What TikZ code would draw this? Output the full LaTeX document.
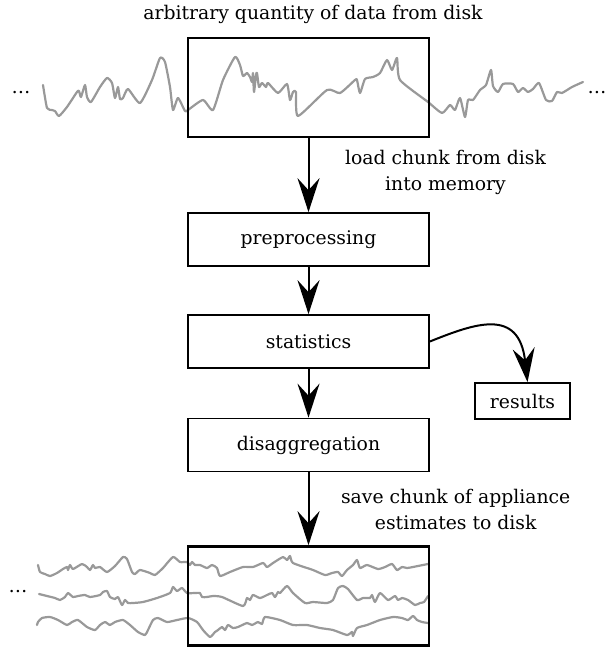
\documentclass[tikz,border=0pt]{standalone}
\usepackage{fontspec}
\setmainfont{DejaVu Serif}
\usetikzlibrary{arrows.meta,calc}
\definecolor{sig}{HTML}{999999}
\tikzset{
  proc/.style={draw, line width=0.85pt, minimum width=120.5pt, minimum height=26.5pt, inner sep=0pt},
  databox/.style={draw, line width=1.35pt, minimum width=120.5pt, minimum height=49.5pt, inner sep=0pt},
  flow/.style={-{Stealth[length=17pt,width=11pt,inset=6pt]}, line width=1pt},
  signal/.style={sig, line width=1.1pt, line join=round, line cap=round},
  lbl/.style={align=center}
}
\begin{document}
\begin{tikzpicture}[x=0.5pt, y=-0.5pt, font=\fontsize{9.4}{13}\selectfont]
\useasboundingbox (0,0) rectangle (606,647);

% incoming data stream
\draw[signal] plot[smooth, tension=0.35] coordinates {
(43,85) (47,108) (52,110) (55,111) (59,116) (67,107) (77,92) (79,91) (81,97) (85,85)
(87,97) (91,102) (100,87) (107,78) (112,83) (115,98) (118,87) (120,99) (123,98) (128,89)
(140,103) (152,80) (160,58) (165,62) (170,87) (173,110) (178,98) (185,111) (188,110)
(203,100) (213,110) (223,80) (235,57) (240,65) (243,76) (247,73) (250,77) (252,82)
(253,73) (254,92) (256,75) (257,73) (259,87) (262,83) (266,87) (268,83) (278,93)
(287,84) (290,100) (293,92) (296,92) (298,116) (327,90) (340,93) (355,80) (357,80)
(360,93) (365,79) (373,77) (380,73) (387,60) (392,70) (397,58) (400,80) (428,102)
(442,113) (450,105) (455,110) (460,98) (465,117) (468,100) (473,100) (480,90) (486,85)
(491,70) (493,86) (498,92) (503,84) (513,84) (518,92) (523,88) (528,92) (533,89)
(539,83) (546,100) (552,101) (557,92) (562,93) (572,87) (583,82)};

% appliance estimate streams
\draw[signal] plot[smooth, tension=0.35] coordinates {
(38,565) (40,572) (45,574) (50,576) (57,573) (63,569) (67,567) (68,570) (70,565) (73,569)
(82,564) (87,567) (90,570) (93,565) (95,568) (100,567) (107,572) (115,566) (123,557)
(127,559) (132,572) (135,574) (140,570) (150,573) (155,575) (163,568) (173,557) (180,562)
(187,562) (190,565) (192,562) (195,565) (200,565) (207,568) (212,565) (217,568) (220,576)
(230,572) (243,567) (253,567) (263,563) (267,567) (273,563) (283,557) (287,560) (290,556)
(293,563) (313,570) (325,575) (332,573) (338,572) (342,576) (347,570) (353,565) (357,560)
(360,568) (367,565) (378,569) (385,567) (392,564) (397,570) (402,567) (407,568) (413,567)
(428,564)};
\draw[signal] plot[smooth, tension=0.35] coordinates {
(39,594) (47,596) (55,598) (60,600) (65,597) (68,593) (73,597) (78,596) (85,595) (90,597)
(100,595) (103,592) (107,591) (110,597) (115,599) (118,597) (122,605) (125,600) (128,603)
(133,603) (143,602) (157,598) (170,593) (173,587) (177,591) (182,588) (187,593) (195,593)
(200,593) (202,597) (207,597) (213,596) (222,597) (243,606) (247,598) (250,600) (253,595)
(260,598) (267,595) (272,593) (275,597) (278,592) (280,593) (287,586) (293,593) (305,603)
(313,602) (327,603) (333,600) (338,588) (343,586) (348,589) (357,600) (363,598) (370,598)
(372,595) (375,602) (380,593) (388,600) (395,596) (398,600) (402,598) (408,600) (415,605)
(420,603) (424,602) (428,596)};
\draw[signal] plot[smooth, tension=0.35] coordinates {
(37,625) (38,622) (42,618) (50,617) (58,620) (67,625) (72,622) (78,620) (87,627) (95,630)
(100,625) (105,622) (110,625) (115,622) (123,620) (130,625) (138,632) (145,635) (148,630)
(153,620) (158,618) (167,622) (177,620) (188,618) (197,622) (203,630) (210,637) (215,632)
(218,630) (222,627) (225,630) (228,625) (233,628) (238,627) (247,623) (252,625) (258,622)
(262,624) (265,617) (280,620) (293,625) (307,625) (320,628) (333,630) (347,635) (352,632)
(353,636) (357,628) (367,625) (380,620) (393,617) (402,618) (408,620) (413,616) (417,620)
(422,622) (428,623)};

% text and boxes
\node[anchor=base] (title) at (313,20) {arbitrary quantity of data from disk};
\node[anchor=base] (dotsTL) at (21,94) {\ldots};
\node[anchor=base] (dotsTR) at (597,94) {\ldots};
\node[anchor=base] (dotsBL) at (18,592) {\ldots};

\node[databox] (chunkin) at (308.5,87.5) {};
\node[proc] (pre) at (308.5,239.5) {preprocessing};
\node[proc] (stat) at (308.5,341.5) {statistics};
\node[proc] (dis) at (308.5,445) {disaggregation};
\node[proc, minimum width=47.5pt, minimum height=18pt] (res) at (522.5,401) {results};
\node[databox] (chunkout) at (308.5,596) {};

\node[lbl, anchor=west] (loadlbl) at (338,172) {load chunk from disk\\into memory};
\node[lbl, anchor=west] (savelbl) at (334,509) {save chunk of appliance\\estimates to disk};

% connectors
\draw[flow] (chunkin) -- (pre);
\draw[flow] (pre) -- (stat);
\draw[flow] (stat) -- (dis);
\draw[flow] (dis) -- (chunkout);
\draw[flow] (stat.east) .. controls ($(stat.east)+(45,-18)$) and ($(res.north)+(-3.5,-75)$) .. ([xshift=2.5pt]res.north);
\end{tikzpicture}
\end{document}
